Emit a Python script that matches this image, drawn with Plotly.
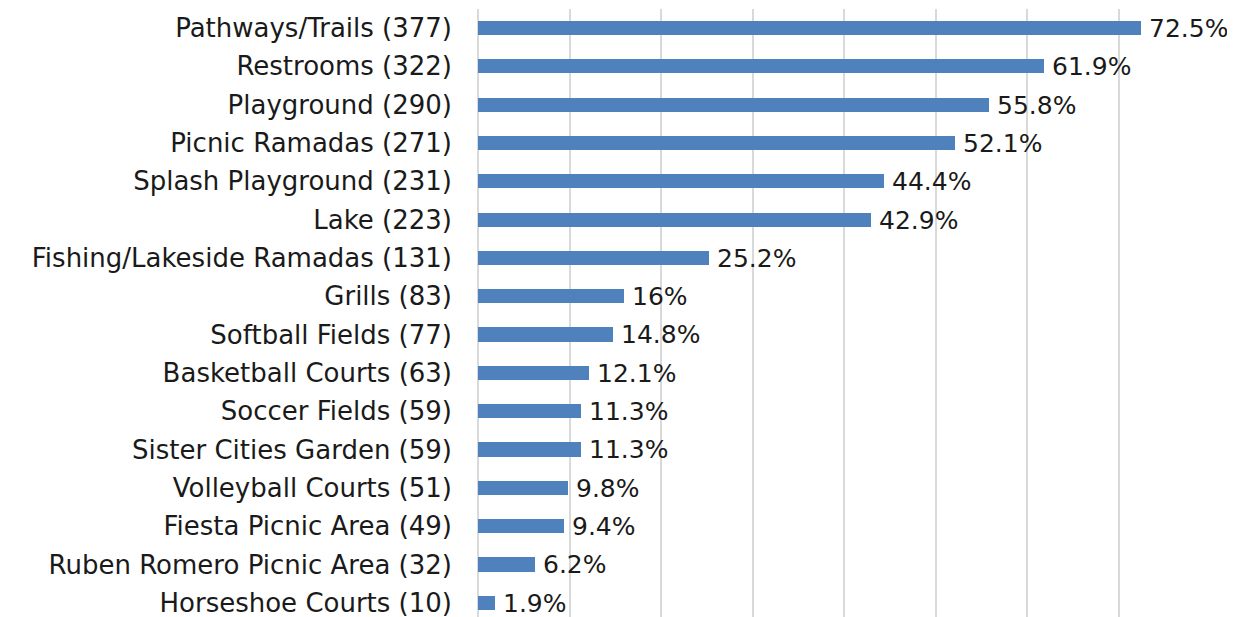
import plotly.graph_objects as go

categories = ["Pathways/Trails (377)", "Restrooms (322)", "Playground (290)", "Picnic Ramadas (271)",
              "Splash Playground (231)", "Lake (223)", "Fishing/Lakeside Ramadas (131)", "Grills (83)",
              "Softball Fields (77)", "Basketball Courts (63)", "Soccer Fields (59)",
              "Sister Cities Garden (59)", "Volleyball Courts (51)", "Fiesta Picnic Area (49)",
              "Ruben Romero Picnic Area (32)", "Horseshoe Courts (10)"]
values = [72.5, 61.9, 55.8, 52.1, 44.4, 42.9, 25.2, 16, 14.8, 12.1, 11.3, 11.3, 9.8, 9.4, 6.2, 1.9]
labels = ["72.5%", "61.9%", "55.8%", "52.1%", "44.4%", "42.9%", "25.2%", "16%", "14.8%", "12.1%",
          "11.3%", "11.3%", "9.8%", "9.4%", "6.2%", "1.9%"]

FONT = "DejaVu Sans"
SIZE = 26
fig = go.Figure(go.Bar(
    x=values, y=categories, orientation="h",
    marker=dict(color="#4F81BD", line=dict(width=0)),
    width=0.37,
    text=["\u2009" + t for t in labels], textposition="outside",
    textfont=dict(size=25, color="#1a1a1a", family=FONT),
    constraintext="none",
    cliponaxis=False,
))
fig.update_layout(
    width=1227, height=609,
    margin=dict(l=470, r=25, t=1, b=0, autoexpand=False),
    plot_bgcolor="white", paper_bgcolor="white",
    showlegend=False,
    font=dict(family=FONT, size=SIZE, color="#1a1a1a"),
    bargap=0,
)
fig.update_xaxes(range=[0, 80], dtick=10, showgrid=True, gridcolor="#d9d9d9", gridwidth=2,
                 showticklabels=False, zeroline=True, zerolinecolor="#d9d9d9", zerolinewidth=2,
                 showline=False, fixedrange=True)
fig.update_yaxes(type="category", range=[15.37, -0.496], ticks="", ticklabelstandoff=25,
                 showgrid=False, tickfont=dict(size=SIZE, color="#1a1a1a", family=FONT), automargin=False)
fig.write_html("out.html")
